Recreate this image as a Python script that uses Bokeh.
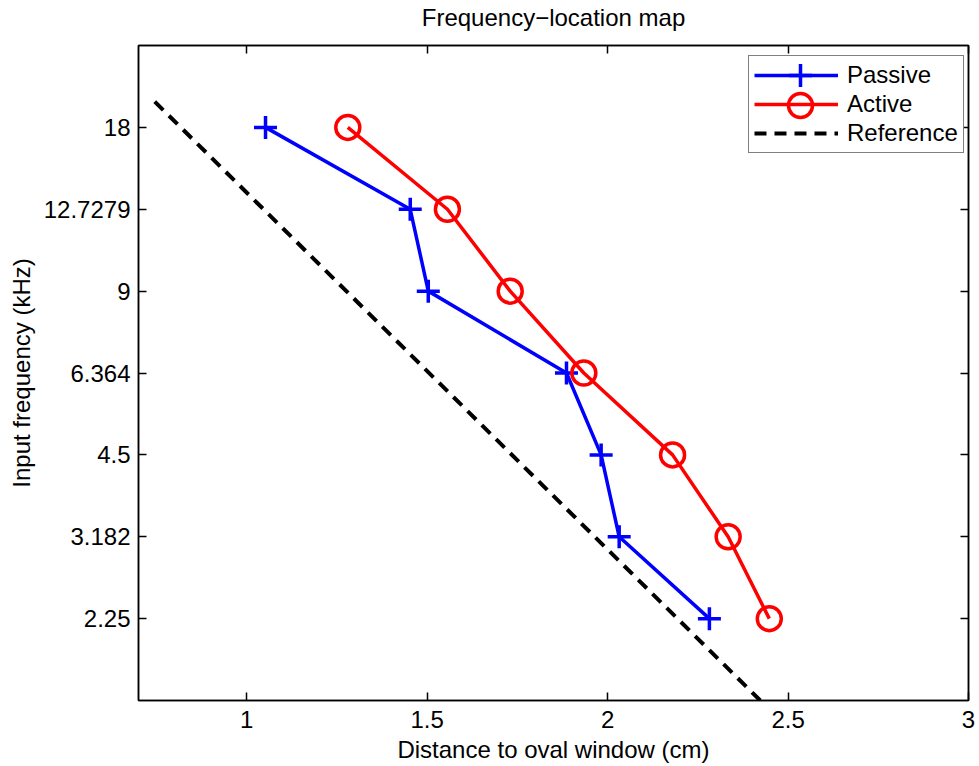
from bokeh.plotting import figure
from bokeh.models import Range1d, FixedTicker, LinearAxis, LogAxis, Legend, LegendItem
from bokeh.embed import file_html
from bokeh.resources import INLINE

# ---- data ----
freq_ticks = [2.25, 3.182, 4.5, 6.364, 9, 12.7279, 18]
freq_labels = ["2.25", "3.182", "4.5", "6.364", "9", "12.7279", "18"]
x_ticks = [1, 1.5, 2, 2.5, 3]
x_labels = ["1", "1.5", "2", "2.5", "3"]

passive_x = [1.052, 1.453, 1.503, 1.886, 1.982, 2.032, 2.282]
passive_f = [18, 12.7279, 9, 6.364, 4.5, 3.182, 2.25]
active_x = [1.28, 1.556, 1.73, 1.934, 2.18, 2.334, 2.448]
active_f = [18, 12.7279, 9, 6.364, 4.5, 3.182, 2.25]
reference_x = [0.745, 2.423]
reference_f = [20.07, 1.591]

x_limits = (0.7, 3.0)
f_limits = (1.591, 25.456)

TITLE = "Frequency\u2212location map"
FONT = "Liberation Sans"
FS = "24px"

p = figure(width=977, height=766,
           x_range=Range1d(*x_limits), y_range=Range1d(*f_limits),
           y_axis_type="log", output_backend="svg", toolbar_location=None,
           min_border_left=138, min_border_right=9, min_border_top=44, min_border_bottom=66)

p.xgrid.visible = False
p.ygrid.visible = False
p.outline_line_color = "black"
p.outline_line_width = 1.5
p.background_fill_color = "white"
p.border_fill_color = "white"

def style_axis(ax):
    ax.axis_line_color = "black"
    ax.axis_line_width = 1.5
    ax.major_tick_line_color = "black"
    ax.major_tick_line_width = 1.5
    ax.major_tick_in = 8
    ax.major_tick_out = 0
    ax.minor_tick_line_color = None
    ax.major_label_text_font = FONT
    ax.major_label_text_font_size = FS
    ax.major_label_text_color = "black"
    ax.axis_label_text_font = FONT
    ax.axis_label_text_font_size = FS
    ax.axis_label_text_font_style = "normal"
    ax.axis_label_text_color = "black"

xa = p.xaxis[0]
xa.ticker = FixedTicker(ticks=x_ticks)
xa.major_label_overrides = dict(zip(x_ticks, x_labels))
xa.axis_label = "Distance to oval window (cm)"
style_axis(xa)
xa.major_label_standoff = 10
xa.axis_label_standoff = 5

ya = p.yaxis[0]
ya.ticker = FixedTicker(ticks=freq_ticks)
ya.major_label_overrides = dict(zip(freq_ticks, freq_labels))
ya.axis_label = "Input frequency (kHz)"
style_axis(ya)
ya.major_label_standoff = 8
ya.axis_label_standoff = 6

# top axis: mirrored ticks, carries the chart title as its label
top = LinearAxis(ticker=FixedTicker(ticks=x_ticks),
                 major_label_overrides={t: "" for t in x_ticks},
                 axis_label=TITLE)
style_axis(top)
top.major_label_standoff = 0
top.axis_label_standoff = 15
p.add_layout(top, "above")

right = LogAxis(ticker=FixedTicker(ticks=freq_ticks),
                major_label_overrides={t: "" for t in freq_ticks})
style_axis(right)
right.major_label_standoff = 0
right.axis_label_standoff = 0
p.add_layout(right, "right")

# ---- glyphs ----
ref_line = p.line(reference_x, reference_f, line_color="black", line_width=4, line_dash="12 8")

pas_line = p.line(passive_x, passive_f, line_color="#0000ff", line_width=3.5)
pas_mark = p.scatter(passive_x, passive_f, marker="cross", size=23,
                     line_color="#0000ff", line_width=3.5)

act_line = p.line(active_x, active_f, line_color="#ff0000", line_width=3.5)
act_mark = p.scatter(active_x, active_f, marker="circle", size=24,
                     line_color="#ff0000", line_width=3.5, fill_alpha=0)

# main legend: box, lines and labels (bottom-left corner given in frame pixels)
legend = Legend(items=[
    LegendItem(label="Passive", renderers=[pas_line]),
    LegendItem(label="Active", renderers=[act_line]),
    LegendItem(label="Reference", renderers=[ref_line]),
], location=(610, 546.75))
legend.padding = 5
legend.spacing = 1
legend.glyph_width = 84
legend.glyph_height = 26
legend.label_height = 26
legend.label_standoff = 9
legend.label_text_font = FONT
legend.label_text_font_size = FS
legend.label_text_color = "black"
legend.border_line_color = "black"
legend.border_line_width = 1.5
legend.background_fill_color = "white"
legend.background_fill_alpha = 1
p.add_layout(legend)

# marker overlays for the legend, drawn at full marker size
def marker_legend(renderer, gh, loc):
    lg = Legend(items=[LegendItem(label=" ", renderers=[renderer])], location=loc)
    lg.padding = 0
    lg.spacing = 0
    lg.glyph_width = 84
    lg.glyph_height = gh
    lg.label_height = 0
    lg.label_width = 0
    lg.label_standoff = 0
    lg.label_text_font_size = "1px"
    lg.border_line_color = None
    lg.background_fill_alpha = 0
    return lg

p.add_layout(marker_legend(pas_mark, 58, (620, 596)))
p.add_layout(marker_legend(act_mark, 60, (620, 565.5)))

open("out.html", "w").write(file_html(p, INLINE))
